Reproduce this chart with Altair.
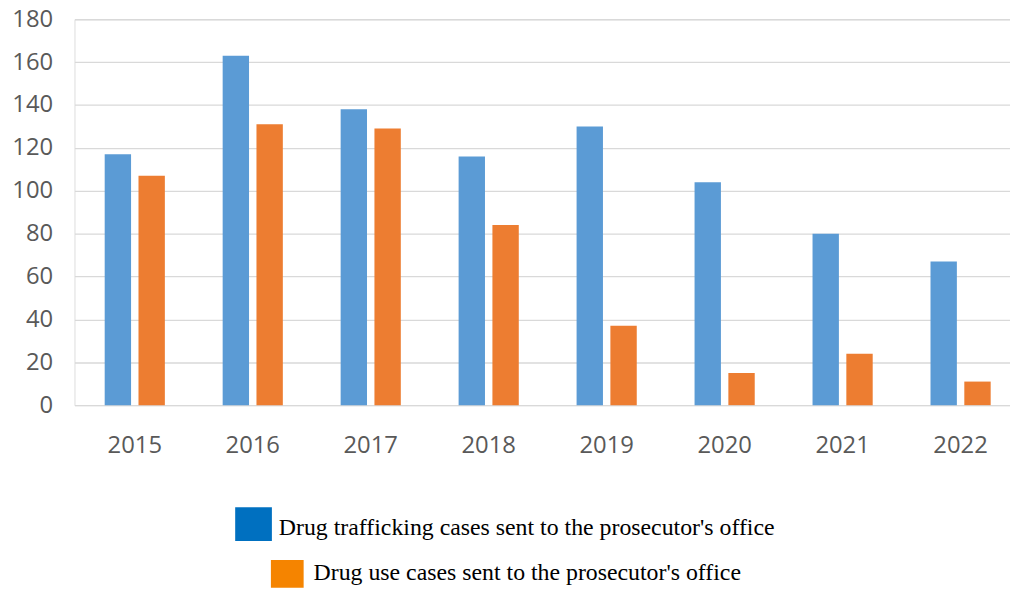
import altair as alt
import pandas as pd

years = ["2015", "2016", "2017", "2018", "2019", "2020", "2021", "2022"]
trafficking = [117, 163, 138, 116, 130, 104, 80, 67]
use = [107, 131, 129, 84, 37, 15, 24, 11]
series = ["Drug trafficking cases sent to the prosecutor's office",
          "Drug use cases sent to the prosecutor's office"]
bar_colors = ["#5B9BD5", "#ED7D31"]
legend_colors = ["#0070C0", "#F58400"]

rows = []
for i, y in enumerate(years):
    rows.append({"year": y, "series": series[0], "value": trafficking[i]})
    rows.append({"year": y, "series": series[1], "value": use[i]})
df = pd.DataFrame(rows)

W, H = 943, 389

bars = alt.Chart(df).mark_bar().encode(
    x=alt.X("year:N", sort=years,
            scale=alt.Scale(paddingInner=0.49, paddingOuter=0.21, align=0.61),
            axis=alt.Axis(title=None, labelAngle=0, ticks=False, domain=False,
                          labelFont="Open Sans", labelFontSize=24, labelColor="#595959",
                          labelPadding=29, grid=False)),
    xOffset=alt.XOffset("series:N", sort=series,
                        scale=alt.Scale(paddingInner=0.22, paddingOuter=0)),
    y=alt.Y("value:Q", scale=alt.Scale(domain=[0, 180], nice=False),
            axis=alt.Axis(title=None, values=list(range(0, 181, 20)), ticks=False,
                          domain=False, labelFont="Open Sans", labelFontSize=24,
                          labelColor="#595959", labelPadding=22,
                          gridColor="#D9D9D9", gridWidth=1.3)),
    color=alt.Color("series:N", sort=series,
                    scale=alt.Scale(domain=series, range=bar_colors), legend=None),
)

leg_df = pd.DataFrame({"label": series, "color": legend_colors})

sw1 = alt.Chart(leg_df.iloc[[0]]).mark_rect(color=legend_colors[0]).encode(
    x=alt.value(162), x2=alt.value(199), y=alt.value(492), y2=alt.value(526))
sw2 = alt.Chart(leg_df.iloc[[1]]).mark_rect(color=legend_colors[1]).encode(
    x=alt.value(198), x2=alt.value(231), y=alt.value(545), y2=alt.value(573))
tx1 = alt.Chart(leg_df.iloc[[0]]).mark_text(
    align="left", baseline="alphabetic", font="Liberation Serif", fontSize=24,
    color="#000000").encode(x=alt.value(206), y=alt.value(520), text="label:N")
tx2 = alt.Chart(leg_df.iloc[[1]]).mark_text(
    align="left", baseline="alphabetic", font="Liberation Serif", fontSize=24,
    color="#000000").encode(x=alt.value(241), y=alt.value(565), text="label:N")

chart = alt.layer(bars, sw1, sw2, tx1, tx2).properties(
    width=W, height=H,
    autosize=alt.AutoSizeParams(type="none"),
    padding={"left": 67, "top": 9, "right": 0, "bottom": 186},
).configure_view(stroke=None).configure(background="white")

chart.save("out.html", embed_options={"renderer": "svg", "actions": False})
